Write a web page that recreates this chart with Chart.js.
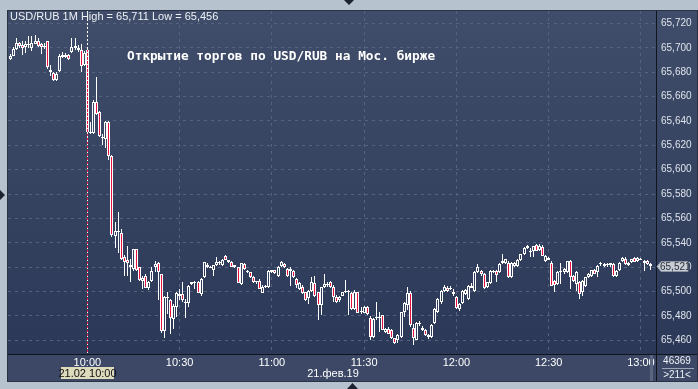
<!DOCTYPE html>
<html>
<head>
<meta charset="utf-8">
<script src="https://cdn.jsdelivr.net/npm/chart.js@4.4.1/dist/chart.umd.min.js"></script>
<style>
  html, body { margin: 0; padding: 0; background: #b7c2cf; }
  canvas { display: block; }
</style>
</head>
<body>
<canvas id="grafica" width="698" height="389"></canvas>
<script>
// USD/RUB, velas de 1 minuto, 21.02.2019
const inicio = '09:35';
const etiquetasX = ['10:00', '10:30', '11:00', '11:30', '12:00', '12:30', '13:00'];
const ticksY = [65.46, 65.48, 65.50, 65.52, 65.54, 65.56, 65.58, 65.60, 65.62, 65.64, 65.66, 65.68, 65.70, 65.72];

const aperturas = [
  65.6905, 65.6935, 65.699, 65.704, 65.702, 65.7005, 65.7035, 65.700, 65.703, 65.706,
  65.7035, 65.7015, 65.7057, 65.682, 65.679, 65.6735, 65.681, 65.694, 65.6925, 65.694,
  65.697, 65.7015, 65.700, 65.698, 65.686, 65.698, 65.631, 65.630, 65.656, 65.647,
  65.627, 65.625, 65.639, 65.611, 65.5456, 65.549, 65.5483, 65.5287, 65.526, 65.5203,
  65.5184, 65.5347, 65.5198, 65.509, 65.513, 65.503, 65.509, 65.5198, 65.523, 65.514,
  65.4677, 65.4954, 65.4932, 65.4778, 65.4872, 65.4981, 65.498, 65.4905, 65.4905, 65.5062,
  65.507, 65.508, 65.4981, 65.5117, 65.522, 65.520, 65.5176, 65.522, 65.523, 65.522,
  65.529, 65.524, 65.524, 65.5217, 65.5198, 65.5062, 65.5225, 65.517, 65.5157, 65.512,
  65.5076, 65.509, 65.499, 65.5035, 65.504, 65.5157, 65.5176, 65.513, 65.5212, 65.5225,
  65.5184, 65.5165, 65.517, 65.510, 65.5022, 65.5035, 65.4994, 65.4948, 65.5008, 65.5068,
  65.4994, 65.4886, 65.5035, 65.506, 65.5076, 65.5035, 65.4959, 65.4927, 65.4967, 65.4994,
  65.5008, 65.4986, 65.4859, 65.4994, 65.4832, 65.4824, 65.4872, 65.4786, 65.4628, 65.478,
  65.4786, 65.4805, 65.4669, 65.4696, 65.4688, 65.4615, 65.4601, 65.4628, 65.4832, 65.4886,
  65.4986, 65.4704, 65.4606, 65.4742, 65.4704, 65.4682, 65.4641, 65.4628, 65.4742, 65.4831,
  65.4913, 65.5008, 65.503, 65.502, 65.4994, 65.4959, 65.4859, 65.4905, 65.498, 65.494,
  65.5048, 65.5008, 65.5157, 65.517, 65.5143, 65.5035, 65.5067, 65.517, 65.517, 65.5157,
  65.523, 65.5238, 65.5238, 65.5122, 65.5211, 65.5211, 65.5257, 65.5306, 65.5355, 65.5335,
  65.5333, 65.5382, 65.534, 65.5366, 65.5252, 65.5274, 65.5238, 65.5089, 65.5062, 65.5157,
  65.516, 65.5157, 65.5247, 65.513, 65.5062, 65.5075, 65.4994, 65.5048, 65.5116, 65.513,
  65.5176, 65.5157, 65.5225, 65.5225, 65.5215, 65.5217, 65.5225, 65.513, 65.5176, 65.5252,
  65.5265, 65.5219, 65.5246, 65.5274, 65.5252, 65.5265, 65.525, 65.5252, 65.5225
];
const maximos = [
  65.695, 65.701, 65.708, 65.705, 65.706, 65.706, 65.7095, 65.710, 65.711, 65.708,
  65.704, 65.704, 65.706, 65.686, 65.680, 65.680, 65.695, 65.697, 65.696, 65.695,
  65.708, 65.708, 65.702, 65.7029, 65.6975, 65.700, 65.639, 65.657, 65.676, 65.648,
  65.629, 65.640, 65.640, 65.612, 65.557, 65.565, 65.551, 65.530, 65.537, 65.5266,
  65.535, 65.535, 65.520, 65.513, 65.514, 65.509, 65.5203, 65.525, 65.524, 65.5145,
  65.4967, 65.500, 65.494, 65.490, 65.500, 65.5022, 65.5076, 65.494, 65.505, 65.508,
  65.509, 65.509, 65.511, 65.524, 65.523, 65.521, 65.522, 65.528, 65.525, 65.527,
  65.530, 65.526, 65.525, 65.522, 65.520, 65.523, 65.523, 65.518, 65.516, 65.5125,
  65.509, 65.510, 65.505, 65.505, 65.5175, 65.518, 65.518, 65.521, 65.525, 65.523,
  65.519, 65.5198, 65.518, 65.511, 65.508, 65.505, 65.500, 65.5013, 65.5117, 65.513,
  65.500, 65.504, 65.5144, 65.508, 65.509, 65.505, 65.497, 65.496, 65.500, 65.5095,
  65.5013, 65.500, 65.501, 65.500, 65.4872, 65.488, 65.488, 65.480, 65.478, 65.4913,
  65.4832, 65.481, 65.470, 65.4705, 65.4695, 65.462, 65.465, 65.4835, 65.4913, 65.5035,
  65.5008, 65.4737, 65.475, 65.476, 65.472, 65.469, 65.465, 65.473, 65.4865, 65.495,
  65.501, 65.5055, 65.5045, 65.5045, 65.502, 65.4965, 65.4905, 65.501, 65.502, 65.5055,
  65.5067, 65.5165, 65.5225, 65.518, 65.515, 65.508, 65.5176, 65.518, 65.518, 65.523,
  65.5306, 65.5265, 65.525, 65.524, 65.524, 65.5265, 65.531, 65.5365, 65.538, 65.536,
  65.5376, 65.539, 65.5388, 65.538, 65.530, 65.5285, 65.525, 65.5095, 65.517, 65.5238,
  65.519, 65.5252, 65.5255, 65.5135, 65.517, 65.509, 65.5095, 65.512, 65.515, 65.518,
  65.5185, 65.5215, 65.5246, 65.5235, 65.5235, 65.5235, 65.5235, 65.518, 65.5245, 65.528,
  65.528, 65.524, 65.527, 65.5285, 65.5285, 65.5275, 65.526, 65.526, 65.5235
];
const minimos = [
  65.690, 65.693, 65.698, 65.700, 65.694, 65.696, 65.700, 65.6975, 65.703, 65.701,
  65.6948, 65.699, 65.683, 65.6772, 65.673, 65.673, 65.680, 65.692, 65.692, 65.690,
  65.696, 65.698, 65.697, 65.6804, 65.685, 65.6215, 65.629, 65.629, 65.645, 65.627,
  65.620, 65.618, 65.608, 65.545, 65.536, 65.532, 65.526, 65.513, 65.513, 65.5076,
  65.517, 65.5165, 65.509, 65.502, 65.5025, 65.501, 65.5076, 65.5157, 65.493, 65.466,
  65.4615, 65.4818, 65.4655, 65.4696, 65.4791, 65.493, 65.491, 65.4786, 65.4872, 65.505,
  65.502, 65.4985, 65.4967, 65.511, 65.5195, 65.519, 65.513, 65.521, 65.522, 65.521,
  65.5255, 65.523, 65.520, 65.519, 65.507, 65.505, 65.518, 65.515, 65.511, 65.507,
  65.506, 65.502, 65.4986, 65.503, 65.503, 65.515, 65.514, 65.512, 65.520, 65.519,
  65.512, 65.5049, 65.511, 65.503, 65.501, 65.498, 65.492, 65.490, 65.4994, 65.4954,
  65.4764, 65.4805, 65.503, 65.504, 65.503, 65.491, 65.4905, 65.491, 65.496, 65.499,
  65.4805, 65.485, 65.485, 65.482, 65.4818, 65.482, 65.481, 65.4601, 65.462, 65.4769,
  65.4669, 65.468, 65.466, 65.465, 65.461, 65.457, 65.4575, 65.462, 65.4791, 65.4845,
  65.471, 65.456, 65.460, 65.472, 65.4675, 65.4635, 65.461, 65.462, 65.473, 65.482,
  65.490, 65.500, 65.4995, 65.501, 65.4967, 65.486, 65.484, 65.4899, 65.4975, 65.493,
  65.5025, 65.500, 65.515, 65.513, 65.502, 65.503, 65.506, 65.515, 65.5075, 65.515,
  65.5225, 65.5228, 65.5115, 65.5115, 65.5205, 65.5205, 65.525, 65.530, 65.5348, 65.528,
  65.528, 65.533, 65.533, 65.529, 65.5245, 65.5255, 65.5045, 65.4994, 65.5055, 65.5062,
  65.5145, 65.515, 65.5021, 65.508, 65.5008, 65.494, 65.4967, 65.504, 65.511, 65.512,
  65.514, 65.5116, 65.521, 65.5205, 65.5205, 65.5205, 65.512, 65.512, 65.517, 65.5245,
  65.522, 65.521, 65.5235, 65.5245, 65.5245, 65.5255, 65.517, 65.522, 65.518
];
const cierres = [
  65.6935, 65.699, 65.704, 65.7016, 65.700, 65.7035, 65.702, 65.7043, 65.706, 65.7016,
  65.701, 65.701, 65.684, 65.6804, 65.6735, 65.6785, 65.6935, 65.6925, 65.6945, 65.691,
  65.7005, 65.700, 65.6985, 65.6853, 65.696, 65.631, 65.630, 65.6554, 65.646, 65.628,
  65.626, 65.639, 65.611, 65.546, 65.5496, 65.550, 65.5266, 65.5239, 65.523, 65.522,
  65.5347, 65.5176, 65.5098, 65.511, 65.503, 65.508, 65.5171, 65.5225, 65.5157, 65.4677,
  65.4959, 65.495, 65.4786, 65.4878, 65.4986, 65.4967, 65.4932, 65.4915, 65.5043, 65.5076,
  65.508, 65.4989, 65.510, 65.524, 65.5198, 65.5193, 65.522, 65.5239, 65.524, 65.526,
  65.526, 65.526, 65.5203, 65.5198, 65.507, 65.523, 65.5184, 65.516, 65.5117, 65.5076,
  65.509, 65.5022, 65.5035, 65.5045, 65.5171, 65.5176, 65.515, 65.5203, 65.5239, 65.5198,
  65.513, 65.5184, 65.5122, 65.505, 65.5068, 65.4986, 65.4932, 65.5008, 65.5076, 65.496,
  65.4886, 65.5035, 65.5062, 65.505, 65.5035, 65.4954, 65.4913, 65.4954, 65.4994, 65.5008,
  65.4994, 65.4859, 65.4994, 65.4824, 65.484, 65.4872, 65.4813, 65.4628, 65.4777, 65.4786,
  65.4794, 65.4688, 65.4696, 65.4655, 65.4615, 65.4574, 65.4642, 65.4832, 65.4905, 65.4986,
  65.4723, 65.4615, 65.4742, 65.4731, 65.4682, 65.4641, 65.4628, 65.4723, 65.4859, 65.494,
  65.5008, 65.504, 65.5002, 65.503, 65.498, 65.4867, 65.4899, 65.5008, 65.5013, 65.5048,
  65.503, 65.5157, 65.5198, 65.5143, 65.5029, 65.5075, 65.517, 65.5157, 65.5138, 65.5225,
  65.5252, 65.5265, 65.5122, 65.523, 65.5238, 65.5257, 65.5306, 65.536, 65.5374, 65.5328,
  65.5374, 65.5333, 65.5374, 65.5293, 65.5293, 65.5257, 65.5048, 65.505, 65.5157, 65.517,
  65.5184, 65.5247, 65.5116, 65.5089, 65.5157, 65.498, 65.5089, 65.5116, 65.5143, 65.5176,
  65.5143, 65.5211, 65.5238, 65.5211, 65.5225, 65.523, 65.513, 65.517, 65.5238, 65.5279,
  65.5225, 65.5238, 65.5265, 65.5246, 65.5279, 65.526, 65.523, 65.5225, 65.521
];

const cabecera = 'USD/RUB 1M High = 65,711 Low = 65,456';
const titulo = 'Открытие торгов по USD/RUB на Мос. бирже';
const fechaCursor = '21.02 10:00';
const fechaEje = '21.фев.19';
const cursor = '10:00';
const volumen = '46369';
const barras = '>211<';

function aMinutos(hora) {
  const [h, m] = hora.split(':').map(Number);
  return h * 60 + m;
}
function formato(v) {
  return v.toFixed(3).replace('.', ',');
}

const minutoInicial = aMinutos(inicio);
const velas = aperturas.map((o, i) => ({ x: minutoInicial + i, y: [o, cierres[i]] }));
const mechas = aperturas.map((o, i) => ({ x: minutoInicial + i, y: [minimos[i], maximos[i]] }));

// degradado del fondo: arriba y abajo del area del grafico
const fondoArriba = [64, 77, 106];
const fondoAbajo = [43, 56, 87];
function colorFondo(t) {
  t = Math.max(0, Math.min(1, t));
  const c = fondoArriba.map((a, k) => Math.round(a + (fondoAbajo[k] - a) * t));
  return `rgb(${c[0]},${c[1]},${c[2]})`;
}

// las velas se ajustan a pixeles enteros para que queden nitidas
const nitidez = {
  id: 'nitidez',
  beforeDatasetsDraw(chart) {
    chart.data.datasets.forEach((ds, d) => {
      chart.getDatasetMeta(d).data.forEach(el => {
        el.x = Math.floor(el.x) + 0.5;
        el.y = Math.round(el.y);
        el.base = Math.round(el.base);
      });
    });
  }
};

const marco = {
  id: 'marco',
  beforeDraw(chart) {
    const { ctx, chartArea: a, width, height } = chart;
    ctx.save();
    ctx.fillStyle = '#b7c2cf';
    ctx.fillRect(0, 0, width, height);
    const g = ctx.createLinearGradient(0, a.top, 0, a.bottom);
    g.addColorStop(0, colorFondo(0));
    g.addColorStop(1, colorFondo(1));
    ctx.fillStyle = g;
    ctx.fillRect(a.left, a.top, width - 1 - a.left, a.bottom - a.top);
    ctx.fillStyle = '#3c4865';
    ctx.fillRect(a.left, a.bottom, width - 1 - a.left, 27);
    ctx.restore();
  },
  afterDraw(chart) {
    const { ctx, chartArea: a, width, scales } = chart;
    ctx.save();

    // linea del cursor a las 10:00
    const xc = Math.floor(scales.x.getPixelForValue(aMinutos(cursor))) + 0.5;
    ctx.lineWidth = 1;
    ctx.setLineDash([2, 2]);
    ctx.strokeStyle = '#ffffff';
    ctx.beginPath();
    ctx.moveTo(xc, a.top);
    ctx.lineTo(xc, a.bottom);
    ctx.stroke();
    ctx.lineDashOffset = 2;
    ctx.strokeStyle = '#e8103c';
    ctx.beginPath();
    ctx.moveTo(xc, scales.y.getPixelForValue(65.70));
    ctx.lineTo(xc, a.bottom);
    ctx.stroke();
    ctx.setLineDash([]);

    // barra gris del eje de tiempo
    ctx.fillStyle = '#5a6680';
    ctx.fillRect(a.right - 6, a.bottom + 1, 3, 26);

    // bordes
    ctx.strokeStyle = '#10141c';
    ctx.beginPath();
    ctx.moveTo(a.right + 0.5, a.top);
    ctx.lineTo(a.right + 0.5, a.bottom + 27);
    ctx.moveTo(a.left, a.bottom + 0.5);
    ctx.lineTo(width - 1, a.bottom + 0.5);
    ctx.stroke();
    ctx.strokeStyle = '#2a3142';
    ctx.strokeRect(a.left - 0.5, a.top - 0.5, width - a.left, a.bottom - a.top + 28);

    // textos
    ctx.textBaseline = 'middle';
    ctx.fillStyle = '#eef1f5';
    ctx.font = '11px "Liberation Sans", Arial, sans-serif';
    ctx.textAlign = 'left';
    ctx.fillText(cabecera, a.left + 2, a.top + 6);

    ctx.fillStyle = '#ffffff';
    ctx.font = 'bold 12.8px "DejaVu Sans Mono", monospace';
    ctx.fillText(titulo, 127, 57);

    // precio actual
    const ult = cierres[cierres.length - 1];
    const yp = Math.round(scales.y.getPixelForValue(ult)) + 0.5;
    ctx.fillStyle = '#c9ced6';
    ctx.strokeStyle = '#8c95a3';
    ctx.beginPath();
    ctx.moveTo(a.right + 1, yp);
    ctx.lineTo(a.right + 5, yp - 5);
    ctx.lineTo(a.right + 32, yp - 5);
    ctx.lineTo(a.right + 32, yp + 5);
    ctx.lineTo(a.right + 5, yp + 5);
    ctx.closePath();
    ctx.fill();
    ctx.stroke();
    ctx.fillStyle = '#2a2f3a';
    ctx.font = '10px "Liberation Sans", Arial, sans-serif';
    ctx.fillText(formato(ult), a.right + 4, yp + 0.5);

    // fecha del cursor
    ctx.fillStyle = '#dedbbd';
    ctx.fillRect(xc - 26.5, a.bottom + 13, 53, 12);
    ctx.fillStyle = '#111111';
    ctx.textAlign = 'center';
    ctx.font = '11px "Liberation Sans", Arial, sans-serif';
    ctx.fillText(fechaCursor, xc, a.bottom + 19.5);
    ctx.fillStyle = '#ffffff';
    ctx.fillText(fechaEje, 333, a.bottom + 19.5);

    // esquina inferior derecha
    ctx.font = '10px "Liberation Sans", Arial, sans-serif';
    ctx.fillStyle = '#eef1f5';
    ctx.fillText(volumen, a.right + 21, a.bottom + 7);
    ctx.fillText(barras, a.right + 21, a.bottom + 21);
    ctx.strokeStyle = '#9aa4b4';
    ctx.beginPath();
    ctx.moveTo(a.right + 6, a.bottom + 14.5);
    ctx.lineTo(a.right + 38, a.bottom + 14.5);
    ctx.stroke();

    // tiradores
    ctx.fillStyle = '#1c2230';
    ctx.beginPath();
    ctx.moveTo(344, 0); ctx.lineTo(354, 0); ctx.lineTo(349, 5); ctx.closePath();
    ctx.moveTo(347, 389); ctx.lineTo(358, 389); ctx.lineTo(352.5, 383); ctx.closePath();
    ctx.moveTo(0, 190); ctx.lineTo(5, 195); ctx.lineTo(0, 200); ctx.closePath();
    ctx.fill();
    ctx.restore();
  }
};

Chart.defaults.font.family = '"Liberation Sans", Arial, sans-serif';

new Chart(document.getElementById('grafica'), {
  type: 'bar',
  data: {
    datasets: [
      {
        label: 'Cuerpo',
        data: velas,
        order: 1,
        grouped: false,
        barThickness: 3,
        minBarLength: 1,
        inflateAmount: 0,
        borderWidth: 1,
        borderSkipped: false,
        borderColor: '#ffffff',
        backgroundColor: c => {
          const i = c.dataIndex;
          if (i === undefined) return colorFondo(0.8);
          if (cierres[i] < aperturas[i]) return '#e8103c';
          const y = c.chart.scales.y;
          if (!y || y.top === undefined) return colorFondo(0.8);
          const p = y.getPixelForValue((aperturas[i] + cierres[i]) / 2);
          return colorFondo((p - y.top) / (y.bottom - y.top));
        }
      },
      {
        label: 'Mecha',
        data: mechas,
        order: 2,
        grouped: false,
        barThickness: 1,
        inflateAmount: 0,
        borderWidth: 0,
        backgroundColor: '#ffffff'
      }
    ]
  },
  options: {
    responsive: false,
    animation: false,
    devicePixelRatio: 1,
    layout: { padding: { left: 8, top: 8, right: 1, bottom: 8 } },
    plugins: { legend: { display: false }, tooltip: { enabled: false } },
    scales: {
      x: {
        type: 'linear',
        offset: false,
        min: minutoInicial - 0.8,
        max: minutoInicial + 209.9,
        afterBuildTicks: s => { s.ticks = etiquetasX.map(t => ({ value: aMinutos(t) })); },
        afterFit: s => { s.height = 27; },
        ticks: {
          color: '#ffffff',
          font: { size: 11 },
          padding: 2,
          maxRotation: 0,
          autoSkip: false,
          callback: v => etiquetasX[etiquetasX.map(aMinutos).indexOf(v)]
        },
        grid: { color: '#56627e', drawTicks: false, offset: false },
        border: { display: false, dash: [3, 4] }
      },
      y: {
        position: 'right',
        min: 65.4487,
        max: 65.7303,
        afterBuildTicks: s => { s.ticks = ticksY.map(v => ({ value: v })); },
        afterFit: s => { s.width = 41; },
        ticks: {
          color: '#dfe4ec',
          font: { size: 10 },
          padding: 5,
          callback: v => formato(v)
        },
        grid: { color: '#56627e', drawTicks: false },
        border: { display: false, dash: [3, 4] }
      }
    }
  },
  plugins: [nitidez, marco]
});
</script>
</body>
</html>
